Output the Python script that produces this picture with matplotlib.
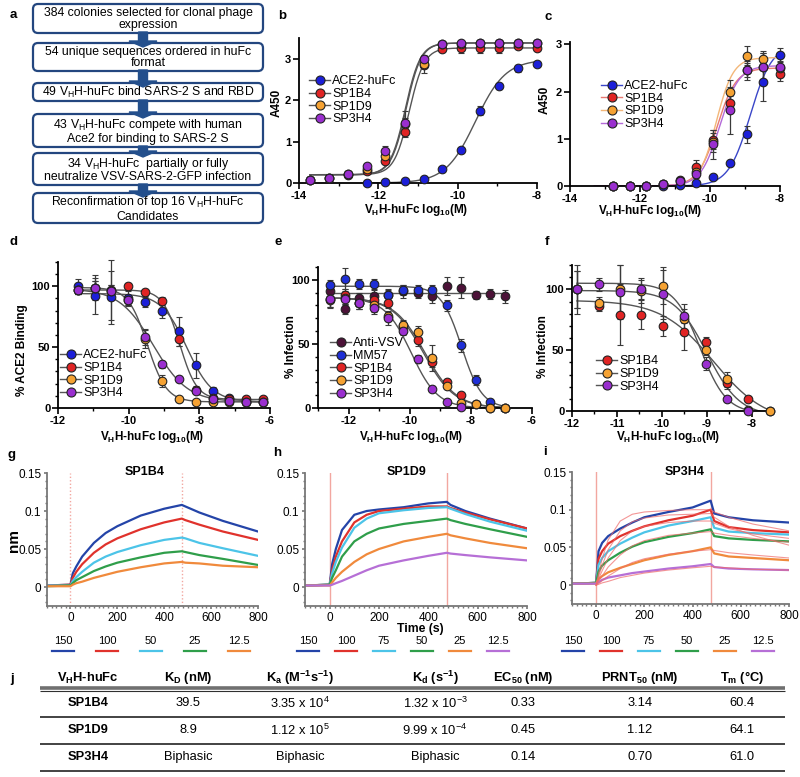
import numpy as np
import matplotlib.pyplot as plt
from matplotlib.patches import FancyBboxPatch, FancyArrow
from matplotlib.lines import Line2D
from matplotlib.ticker import MultipleLocator, FuncFormatter

plt.rcParams['font.family'] = ['Liberation Sans', 'DejaVu Sans']
plt.rcParams['axes.unicode_minus'] = False
plt.rcParams['mathtext.default'] = 'regular'

# ---------------- data ----------------
flow_steps = [
    "384 colonies selected for clonal phage\nexpression",
    "54 unique sequences ordered in huFc\nformat",
    "49 V$_H$H-huFc bind SARS-2 S and RBD",
    "43 V$_H$H-huFc compete with human\nAce2 for binding to SARS-2 S",
    "34 V$_H$H-huFc  partially or fully\nneutralize VSV-SARS-2-GFP infection",
    "Reconfirmation of top 16 V$_H$H-huFc\nCandidates",
]

names4 = ["ACE2-huFc", "SP1B4", "SP1D9", "SP3H4"]

# b: ELISA binding to S (A450), 3-fold dilutions
b_x = [-8.0, -8.48, -8.95, -9.43, -9.91, -10.39, -10.86, -11.34, -11.82, -12.29, -12.77, -13.25, -13.72]
b_ace2 = [2.88, 2.77, 2.33, 1.75, 0.80, 0.33, 0.10, 0.05, 0.02, 0.00]
b_ace2_err = [0.05, 0.08, 0.05, 0.10, 0.04, 0.03, 0.02, 0.02, 0.01, 0.01]
b_sp1b4 = [3.25, 3.30, 3.25, 3.25, 3.25, 3.23, 2.85, 1.22, 0.53, 0.30, 0.20, 0.12, 0.08]
b_sp1b4_err = [0.05, 0.05, 0.10, 0.12, 0.10, 0.05, 0.20, 0.10, 0.05, 0.05, 0.03, 0.02, 0.02]
b_sp1d9 = [3.38, 3.38, 3.38, 3.37, 3.36, 3.35, 2.88, 1.42, 0.65, 0.35, 0.22, 0.12, 0.08]
b_sp1d9_err = [0.03, 0.03, 0.03, 0.03, 0.03, 0.03, 0.10, 0.15, 0.08, 0.05, 0.03, 0.02, 0.02]
b_sp3h4 = [3.38, 3.38, 3.38, 3.38, 3.37, 3.36, 3.00, 1.45, 0.77, 0.40, 0.22, 0.12, 0.08]
b_sp3h4_err = [0.03, 0.03, 0.03, 0.03, 0.03, 0.03, 0.10, 0.30, 0.12, 0.06, 0.03, 0.02, 0.02]
# 4PL fit parameters (bottom, top, logEC50, hill)
b_fits = [(0.0, 2.98, -9.55, 1.15), (0.2, 3.26, -11.22, 2.3), (0.2, 3.38, -11.30, 2.3), (0.2, 3.38, -11.32, 2.3)]

# c: ELISA binding to RBD (A450)
c_x = [-8.0, -8.48, -8.95, -9.43, -9.91, -10.39, -10.86, -11.34, -11.82, -12.29, -12.77]
c_ace2 = [2.78, 2.20, 1.10, 0.49, 0.20, 0.07, 0.02, 0.01, 0.01, 0.00, 0.00]
c_ace2_err = [0.15, 0.40, 0.18, 0.05, 0.03, 0.02, 0.01, 0.01, 0.01, 0.01, 0.01]
c_sp1b4 = [2.38, 2.52, 2.45, 1.75, 0.98, 0.40, 0.12, 0.05, 0.01, 0.00, 0.00]
c_sp1b4_err = [0.15, 0.30, 0.15, 0.15, 0.20, 0.15, 0.05, 0.02, 0.01, 0.01, 0.01]
c_sp1d9 = [2.50, 2.70, 2.76, 2.00, 0.93, 0.30, 0.10, 0.04, 0.01, 0.00, 0.00]
c_sp1d9_err = [0.15, 0.15, 0.20, 0.25, 0.20, 0.10, 0.04, 0.02, 0.01, 0.01, 0.01]
c_sp3h4 = [2.52, 2.52, 2.45, 1.60, 0.88, 0.26, 0.10, 0.04, 0.01, 0.00, 0.00]
c_sp3h4_err = [0.20, 0.30, 0.20, 0.50, 0.30, 0.10, 0.04, 0.02, 0.01, 0.01, 0.01]
c_fits = [(0.0, 3.0, -8.85, 1.4), (0.0, 2.50, -9.80, 1.6), (0.0, 2.72, -9.82, 1.8), (0.0, 2.55, -9.72, 1.6)]
c_fit_colors = ["#3a46c8", "#e87a72", "#f3b779", "#b46ad8"]

# d: ACE2 competition (% ACE2 binding)
d_x = [-11.44, -10.96, -10.49, -10.01, -9.53, -9.06, -8.58, -8.10, -7.62, -7.15, -6.67, -6.20]
d_ace2 = [100, 92, 91, 90, 87, 80, 63, 35, 14, 8, 5, 5]
d_ace2_err = [6, 15, 22, 6, 4, 6, 12, 10, 3, 2, 1, 1]
d_sp1b4 = [97, 99, 97, 100, 95, 88, 57, 15, 8, 7, 7, 7]
d_sp1b4_err = [3, 10, 25, 3, 3, 3, 6, 3, 2, 1, 1, 1]
d_sp1d9 = [97, 99, 96, 89, 57, 22, 7, 5, 5, 5, 5, 5]
d_sp1d9_err = [3, 5, 5, 4, 8, 5, 1, 1, 1, 1, 1, 1]
d_sp3h4 = [97, 99, 96, 89, 58, 36, 24, 14, 7, 6, 5, 5]
d_sp3h4_err = [3, 5, 5, 4, 6, 3, 2, 2, 1, 1, 1, 1]
d_fits = [(5, 94, -8.35, -1.2), (7, 97, -8.55, -1.8), (5, 99, -9.47, -1.6), (5, 98, -9.30, -0.9)]

# e: VSV-SARS-2 neutralization (% infection)
e_names = ["Anti-VSV", "MM57", "SP1B4", "SP1D9", "SP3H4"]
e_x = [-6.88, -7.36, -7.83, -8.31, -8.79, -9.27, -9.74, -10.22, -10.70, -11.18, -11.65, -12.13, -12.61]
e_antivsv = [87, 89, 88, 94, 95, 87, 90, 91, 88, 87, 86, 77, 91]
e_antivsv_err = [5, 4, 3, 8, 7, 5, 4, 5, 5, 5, 4, 4, 5]
e_mm57 = [0, 5, 22, 49, 80, 92, 92, 92, 88, 97, 97, 101, 96]
e_mm57_err = [1, 2, 4, 5, 4, 4, 4, 4, 4, 4, 4, 8, 4]
e_sp1b4 = [0, 0, 3, 10, 20, 36, 53, 64, 82, 84, 82, 88, 85]
e_sp1b4_err = [1, 1, 1, 2, 2, 4, 5, 4, 4, 5, 5, 5, 6]
e_sp1d9 = [0, 0, 3, 4, 17, 39, 59, 65, 72, 80, 82, 86, 84]
e_sp1d9_err = [1, 1, 1, 1, 2, 10, 5, 4, 4, 5, 5, 5, 6]
e_sp3h4 = [None, None, None, 1, 5, 15, 38, 60, 70, 78, 82, 85, 85]
e_sp3h4_err = [0, 0, 0, 1, 1, 2, 3, 3, 5, 5, 5, 5, 6]
e_fits = [(89.5, 89.5, -9.0, -1.0), (0, 95, -8.30, -1.3), (0, 86, -9.55, -0.85), (0, 86, -9.50, -0.85), (0, 86, -9.95, -1.0)]

# f: authentic SARS-CoV-2 neutralization (% infection)
f_x = [-7.60, -8.08, -8.55, -9.03, -9.50, -9.98, -10.46, -10.93, -11.41, -11.89]
f_sp1b4 = [0, 10, 23, 57, 65, 70, 79, 79, 86, 100]
f_sp1b4_err = [1, 2, 5, 4, 15, 8, 12, 25, 4, 20]
f_sp1d9 = [0, 1, 26, 50, 76, 103, 99, 100, 89, 100]
f_sp1d9_err = [1, 1, 6, 4, 12, 15, 10, 20, 5, 15]
f_sp3h4 = [None, 0, 10, 39, 78, 96, 100, 98, 104, 100]
f_sp3h4_err = [0, 1, 2, 5, 6, 20, 8, 22, 5, 15]
f_fits = [(-10, 91, -8.85, -0.75), (-4, 99, -9.00, -1.2), (-2, 105, -9.15, -1.5)]

# g-i: BLI sensorgrams (nm) read at these times (s)
bli_t = [-100, 0, 10, 25, 50, 100, 150, 200, 300, 400, 475, 490, 550, 650, 800]
g_conc = ["150", "100", "50", "25", "12.5"]
g_traces = [
    [0.002, 0.003, 0.018, 0.027, 0.040, 0.058, 0.071, 0.080, 0.094, 0.103, 0.108, 0.106, 0.098, 0.087, 0.073],
    [0.002, 0.003, 0.012, 0.020, 0.030, 0.045, 0.056, 0.064, 0.076, 0.085, 0.090, 0.088, 0.082, 0.073, 0.062],
    [0.002, 0.002, 0.008, 0.013, 0.020, 0.032, 0.040, 0.046, 0.055, 0.062, 0.065, 0.064, 0.058, 0.051, 0.041],
    [0.001, 0.002, 0.005, 0.009, 0.013, 0.021, 0.027, 0.032, 0.039, 0.045, 0.047, 0.046, 0.042, 0.037, 0.029],
    [0.001, 0.001, 0.003, 0.005, 0.007, 0.012, 0.016, 0.020, 0.026, 0.031, 0.033, 0.032, 0.031, 0.028, 0.026],
]
h_conc = ["150", "100", "75", "50", "25", "12.5"]
h_traces = [
    [0.002, 0.003, 0.030, 0.050, 0.075, 0.095, 0.100, 0.102, 0.105, 0.110, 0.112, 0.108, 0.100, 0.090, 0.077],
    [0.002, 0.003, 0.022, 0.040, 0.060, 0.085, 0.095, 0.100, 0.103, 0.106, 0.106, 0.104, 0.098, 0.089, 0.077],
    [0.002, 0.003, 0.018, 0.033, 0.052, 0.078, 0.090, 0.097, 0.101, 0.104, 0.105, 0.103, 0.096, 0.086, 0.074],
    [0.002, 0.003, 0.012, 0.022, 0.040, 0.060, 0.070, 0.077, 0.083, 0.087, 0.090, 0.088, 0.083, 0.076, 0.066],
    [0.002, 0.002, 0.006, 0.012, 0.020, 0.033, 0.043, 0.050, 0.060, 0.066, 0.070, 0.068, 0.064, 0.058, 0.051],
    [0.002, 0.002, 0.003, 0.005, 0.008, 0.015, 0.022, 0.028, 0.035, 0.041, 0.045, 0.044, 0.042, 0.039, 0.035],
]
i_conc = ["150", "100", "75", "50", "25", "12.5"]
i_traces = [
    [0.002, 0.003, 0.045, 0.056, 0.065, 0.075, 0.083, 0.090, 0.097, 0.103, 0.112, 0.095, 0.090, 0.086, 0.083],
    [0.002, 0.003, 0.035, 0.045, 0.055, 0.065, 0.072, 0.078, 0.086, 0.092, 0.100, 0.085, 0.077, 0.073, 0.070],
    [0.002, 0.003, 0.027, 0.036, 0.045, 0.055, 0.063, 0.070, 0.079, 0.085, 0.090, 0.076, 0.071, 0.069, 0.067],
    [0.002, 0.003, 0.018, 0.026, 0.033, 0.043, 0.051, 0.057, 0.064, 0.069, 0.074, 0.065, 0.062, 0.060, 0.058],
    [0.002, 0.002, 0.008, 0.012, 0.017, 0.023, 0.028, 0.033, 0.040, 0.045, 0.050, 0.042, 0.038, 0.036, 0.033],
    [0.002, 0.002, 0.004, 0.007, 0.010, 0.013, 0.016, 0.018, 0.022, 0.025, 0.028, 0.024, 0.022, 0.021, 0.020],
]
# global 1:1 fits drawn for SP3H4 (from t = 0)
i_fit_t = [0, 10, 25, 50, 100, 150, 200, 300, 400, 475, 490, 550, 650, 800]
i_fits = [
    [0.0, 0.015, 0.035, 0.060, 0.085, 0.094, 0.097, 0.099, 0.100, 0.100, 0.097, 0.090, 0.081, 0.072],
    [0.0, 0.011, 0.026, 0.047, 0.072, 0.084, 0.089, 0.093, 0.094, 0.095, 0.090, 0.078, 0.066, 0.053],
    [0.0, 0.008, 0.019, 0.036, 0.059, 0.072, 0.078, 0.083, 0.085, 0.085, 0.082, 0.075, 0.068, 0.062],
    [0.0, 0.005, 0.012, 0.024, 0.040, 0.052, 0.059, 0.066, 0.069, 0.071, 0.069, 0.066, 0.062, 0.057],
    [0.0, 0.002, 0.006, 0.012, 0.022, 0.030, 0.035, 0.041, 0.045, 0.047, 0.046, 0.043, 0.040, 0.036],
    [0.0, 0.001, 0.003, 0.005, 0.010, 0.013, 0.016, 0.020, 0.023, 0.025, 0.024, 0.023, 0.021, 0.020],
]

# j: summary table
table_header = ["V$_H$H-huFc", "K$_D$ (nM)", "K$_a$ (M$^{-1}$s$^{-1}$)", "K$_d$ (s$^{-1}$)",
                "EC$_{50}$ (nM)", "PRNT$_{50}$ (nM)", "T$_m$ (\u00b0C)"]
table_rows = [
    ["SP1B4", "39.5", "3.35 x 10$^4$", "1.32 x 10$^{-3}$", "0.33", "3.14", "60.4"],
    ["SP1D9", "8.9", "1.12 x 10$^5$", "9.99 x 10$^{-4}$", "0.45", "1.12", "64.1"],
    ["SP3H4", "Biphasic", "Biphasic", "Biphasic", "0.14", "0.70", "61.0"],
]

# ---------------- styles ----------------
col4 = ["#1c1fd8", "#e02424", "#f5a233", "#9a2fcf"]
e_cols = ["#4c1238", "#1f2fd6", "#e02424", "#f5a233", "#9a2fcf"]
conc_cols = ["#2444a8", "#e0322c", "#4cc4e8", "#2f9e4a", "#f08a3c", "#b66fd6"]
g_cols = ["#2444a8", "#e0322c", "#4cc4e8", "#2f9e4a", "#f08a3c"]
fit_gray = "#555555"

W, H = 800, 777
fig = plt.figure(figsize=(W / 100, H / 100), dpi=100)

# overlay for text, flowchart and table (pixel coordinates)
ov = fig.add_axes([0, 0, 1, 1])
ov.set_xlim(0, W)
ov.set_ylim(H, 0)
ov.axis("off")


def add_ax(l, t, r, b):
    return fig.add_axes([l / W, 1 - b / H, (r - l) / W, (b - t) / H])


def style(ax, bold=True, fs=8):
    for s in ["top", "right"]:
        ax.spines[s].set_visible(False)
    for s in ["left", "bottom"]:
        ax.spines[s].set_linewidth(1.3)
    ax.tick_params(which="major", length=4, width=1.2, labelsize=fs, pad=1.5)
    ax.tick_params(which="minor", length=2.2, width=1.0)
    if bold:
        for lab in ax.get_xticklabels() + ax.get_yticklabels():
            lab.set_fontweight("bold")
    ax.patch.set_alpha(0)


def fourpl(x, bottom, top, logec, hill):
    return bottom + (top - bottom) / (1 + 10 ** (hill * (logec - x)))


def points(ax, x, y, err, color):
    xs = [a for a, v in zip(x, y) if v is not None]
    ys = [v for v in y if v is not None]
    es = [e for e, v in zip(err, y) if v is not None]
    ax.errorbar(xs[:len(ys)], ys, yerr=es, fmt="o", ms=6.2, color=color, mec="#222222", mew=0.8,
                ecolor="#3a3a3a", elinewidth=0.9, capsize=2.2, capthick=0.9, zorder=3, clip_on=False)


def legend(ax, names, colors, line_colors, x0, y0, fs=9):
    handles = [Line2D([], [], color=lc, lw=1, marker="o", ms=6.5, mfc=c, mec="#222222", mew=0.8)
               for c, lc in zip(colors, line_colors)]
    ax.legend(handles, names, loc="upper left", bbox_to_anchor=(x0 / W, 1 - y0 / H),
              bbox_transform=fig.transFigure, frameon=False, fontsize=fs, handlelength=1.7,
              handletextpad=0.15, labelspacing=0.05, borderpad=0, borderaxespad=0)


xlab = "V$_H$H-huFc log$_{10}$(M)"

# ---------------- a: flowchart ----------------
box_tops = [4, 43, 83, 114, 153, 193]
box_bots = [33, 71, 101, 147, 185, 223]
for k, txt in enumerate(flow_steps):
    top, bot = box_tops[k], box_bots[k]
    ov.add_patch(FancyBboxPatch((33, top), 230, bot - top, boxstyle="round,pad=0,rounding_size=5",
                                fc="white", ec="#23467f", lw=1.6, zorder=2))
    ov.text(148, (top + bot) / 2 + 0.5, txt, ha="center", va="center", fontsize=8.8,
            linespacing=1.0, zorder=4)
    if k < len(flow_steps) - 1:
        y0 = bot - 1
        y1 = box_tops[k + 1] + 4
        ov.add_patch(FancyArrow(143, y0, 0, y1 - y0, width=9, head_width=28, head_length=6,
                                length_includes_head=True, color="#234f8c", zorder=3))

# ---------------- b ----------------
ax = add_ax(299, 38, 537, 183)
b_vals = [b_ace2, b_sp1b4, b_sp1d9, b_sp3h4]
b_errs = [b_ace2_err, b_sp1b4_err, b_sp1d9_err, b_sp3h4_err]
for k in range(4):
    n = len(b_vals[k])
    xx = np.linspace(b_x[n - 1], b_x[0], 200)
    ax.plot(xx, fourpl(xx, *b_fits[k]), color=fit_gray, lw=1.0, zorder=2)
    points(ax, b_x[:n], b_vals[k], b_errs[k][:n], col4[k])
ax.set_xlim(-14, -8)
ax.set_ylim(0, 3.5)
ax.set_xticks([-14, -12, -10, -8])
ax.set_yticks([0, 1, 2, 3])
ax.xaxis.set_minor_locator(MultipleLocator(1))
style(ax)
legend(ax, names4, col4, [fit_gray] * 4, 309, 75.5)

# ---------------- c ----------------
ax = add_ax(570, 42, 780, 186)
c_vals = [c_ace2, c_sp1b4, c_sp1d9, c_sp3h4]
c_errs = [c_ace2_err, c_sp1b4_err, c_sp1d9_err, c_sp3h4_err]
for k in range(4):
    xx = np.linspace(-13.3, -8.0, 200)
    ax.plot(xx, fourpl(xx, *c_fits[k]), color=c_fit_colors[k], lw=1.0, zorder=2)
for k in range(4):
    points(ax, c_x, c_vals[k], c_errs[k], col4[k])
ax.set_xlim(-14, -8)
ax.set_ylim(0, 3.05)
ax.set_xticks([-14, -12, -10, -8])
ax.set_yticks([0, 1, 2, 3])
ax.xaxis.set_minor_locator(MultipleLocator(1))
style(ax)
legend(ax, names4, col4, c_fit_colors, 601, 80)

# ---------------- d ----------------
ax = add_ax(58, 262, 270, 408)
d_vals = [d_ace2, d_sp1b4, d_sp1d9, d_sp3h4]
d_errs = [d_ace2_err, d_sp1b4_err, d_sp1d9_err, d_sp3h4_err]
for k in range(4):
    xx = np.linspace(d_x[0], d_x[-1], 200)
    ax.plot(xx, fourpl(xx, *d_fits[k]), color=fit_gray, lw=1.0, zorder=2)
for k in range(4):
    points(ax, d_x, d_vals[k], d_errs[k], col4[k])
ax.set_xlim(-12, -6)
ax.set_ylim(0, 120)
ax.set_xticks([-12, -10, -8, -6])
ax.set_yticks([0, 50, 100])
ax.xaxis.set_minor_locator(MultipleLocator(1))
ax.yaxis.set_minor_locator(MultipleLocator(10))
style(ax)
legend(ax, names4, col4, [fit_gray] * 4, 60, 349.5)

# ---------------- e ----------------
ax = add_ax(318, 267, 532, 408)
e_vals = [e_antivsv, e_mm57, e_sp1b4, e_sp1d9, e_sp3h4]
e_errs = [e_antivsv_err, e_mm57_err, e_sp1b4_err, e_sp1d9_err, e_sp3h4_err]
for k in range(5):
    xx = np.linspace(e_x[-1], e_x[0], 200)
    ax.plot(xx, fourpl(xx, *e_fits[k]), color=fit_gray, lw=1.0, zorder=2)
for k in range(5):
    points(ax, e_x, e_vals[k], e_errs[k], e_cols[k])
ax.set_xlim(-13, -6)
ax.set_ylim(0, 110)
ax.set_xticks([-12, -10, -8, -6])
ax.set_yticks([0, 50, 100])
ax.xaxis.set_minor_locator(MultipleLocator(1))
ax.yaxis.set_minor_locator(MultipleLocator(10))
style(ax)
legend(ax, e_names, e_cols, [fit_gray] * 5, 330, 337.5)

# ---------------- f ----------------
ax = add_ax(572, 265, 770, 411)
f_vals = [f_sp1b4, f_sp1d9, f_sp3h4]
f_errs = [f_sp1b4_err, f_sp1d9_err, f_sp3h4_err]
for k in range(3):
    xx = np.linspace(f_x[-1], f_x[0], 200)
    ax.plot(xx, fourpl(xx, *f_fits[k]), color=fit_gray, lw=1.0, zorder=2)
for k in range(3):
    points(ax, f_x, f_vals[k], f_errs[k], col4[k + 1])
ax.set_xlim(-12, -7.6)
ax.set_ylim(0, 120)
ax.set_xticks([-12, -11, -10, -9, -8])
ax.set_yticks([0, 50, 100])
ax.xaxis.set_minor_locator(MultipleLocator(0.5))
ax.yaxis.set_minor_locator(MultipleLocator(10))
style(ax)
legend(ax, names4[1:], col4[1:], [fit_gray] * 3, 596, 355.5)


# ---------------- g, h, i ----------------
def bli(ax, traces, colors, dotted):
    for tr, c in zip(traces, colors):
        ax.plot(bli_t, tr, color=c, lw=1.6, zorder=2)
    ls = (0, (1, 1.5)) if dotted else "-"
    for xv in (0, 475):
        ax.axvline(xv, color="#f2a7a0", lw=1.0, ls=ls, zorder=1)
    ax.set_xlim(-100, 800)
    ax.set_ylim(-0.025, 0.15)
    ax.set_xticks([0, 200, 400, 600, 800])
    ax.set_yticks([0, 0.05, 0.1, 0.15])
    ax.yaxis.set_major_formatter(FuncFormatter(lambda v, p: "%g" % round(v, 3)))
    ax.xaxis.set_minor_locator(MultipleLocator(20))
    ax.yaxis.set_minor_locator(MultipleLocator(0.01))
    style(ax, bold=False, fs=8.5)
    ax.tick_params(which="major", length=2.5, pad=1.5)
    ax.tick_params(which="minor", length=1.6)
    ax.spines["left"].set_color("#777777")
    ax.spines["bottom"].set_color("#777777")
    ax.tick_params(which="both", color="#777777")


ax_g = add_ax(47, 473, 258, 606)
bli(ax_g, g_traces, g_cols, True)
ax_h = add_ax(305, 473, 527, 606)
bli(ax_h, h_traces, conc_cols, False)
ax_i = add_ax(572, 472, 789, 604)
bli(ax_i, i_traces, conc_cols, False)
for fy in i_fits:
    ax_i.plot(i_fit_t, fy, color="#ef6a6a", lw=0.8, zorder=3, alpha=0.7)

# concentration keys under g, h, i
for labels, cols, x0, step in [(g_conc, g_cols, 63, 44), (h_conc, conc_cols, 308, 38),
                               (i_conc, conc_cols, 573, 38)]:
    for k, (lab, c) in enumerate(zip(labels, cols)):
        xc = x0 + k * step
        ov.text(xc, 641, lab, ha="center", va="center", fontsize=8)
        ov.plot([xc - 11, xc + 11], [651, 651], color=c, lw=1.6)

# ---------------- labels ----------------
for lab, x, y in [("a", 13, 15), ("b", 282, 16), ("c", 548, 17), ("d", 13, 242), ("e", 278, 242),
                  ("f", 547, 242), ("g", 12, 455), ("h", 277, 453), ("i", 545, 452), ("j", 12, 679)]:
    ov.text(x, y, lab, ha="center", va="center", fontsize=9.5, fontweight="bold")

for txt, x, y in [("A450", 277, 103), ("A450", 545, 100), ("% ACE2 Binding", 22, 350),
                  ("% Infection", 291, 347), ("% Infection", 543, 347)]:
    ov.text(x, y, txt, ha="center", va="center", rotation=90, fontsize=8.5, fontweight="bold")
ov.text(14, 540, "nm", ha="center", va="center", rotation=90, fontsize=11, fontweight="bold")

for x, y in [(416, 210), (650, 211), (152, 437), (411, 437), (668, 437)]:
    ov.text(x, y, xlab, ha="center", va="center", fontsize=8.5, fontweight="bold")
ov.text(420, 629, "Time (s)", ha="center", va="center", fontsize=8.8, fontweight="bold")

for txt, x, y in [("SP1B4", 145, 472), ("SP1D9", 407, 472), ("SP3H4", 685, 472)]:
    ov.text(x, y, txt, ha="center", va="center", fontsize=9, fontweight="bold")

# ---------------- j: table ----------------
col_x = [88, 188, 300, 435, 523, 640, 742]
row_y = [703, 730, 757]
for cx, hd in zip(col_x, table_header):
    ov.text(cx, 678, hd, ha="center", va="center", fontsize=9.3, fontweight="bold")
ov.plot([40, 785], [688, 688], color="#707070", lw=2.6, solid_capstyle="butt")
ov.plot([40, 785], [690.5, 690.5], color="#303030", lw=0.8, solid_capstyle="butt")
for ry, row in zip(row_y, table_rows):
    for k, (cx, val) in enumerate(zip(col_x, row)):
        ov.text(cx, ry, val, ha="center", va="center", fontsize=9.3,
                fontweight="bold" if k == 0 else "normal")
    ov.plot([40, 785], [ry + 14, ry + 14], color="#222222", lw=1.2, solid_capstyle="butt")

fig.savefig("out.png", dpi=100)
